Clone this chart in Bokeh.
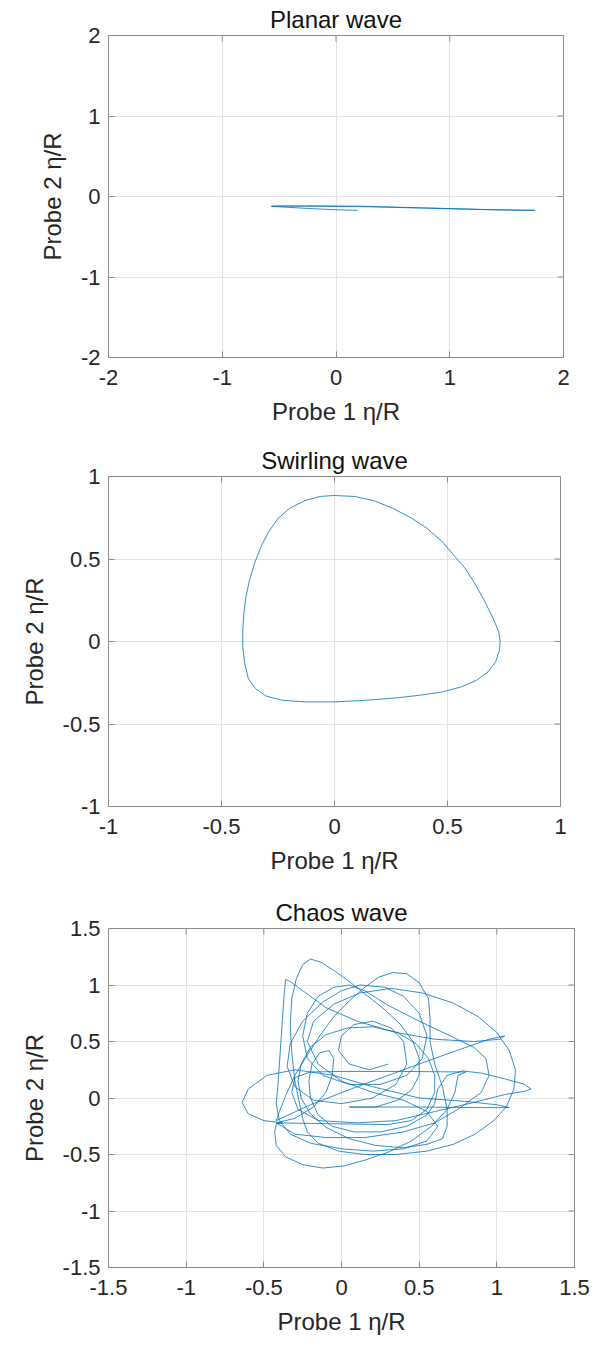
from bokeh.plotting import figure
from bokeh.layouts import column
from bokeh.models import Range1d, FixedTicker, CustomJSTickFormatter
from bokeh.embed import file_html
from bokeh.resources import INLINE

# ---------------- data ----------------
titles = ["Planar wave", "Swirling wave", "Chaos wave"]
x_label = "Probe 1 \u03b7/R"
y_label = "Probe 2 \u03b7/R"

ticks_planar = [-2, -1, 0, 1, 2]
ticks_swirl = [-1, -0.5, 0, 0.5, 1]
ticks_chaos = [-1.5, -1, -0.5, 0, 0.5, 1, 1.5]

planar_x = [0.19, 0.0, -0.2, -0.45, -0.57, -0.5, -0.2, 0.2, 0.6, 1.0, 1.4, 1.75,
            1.3, 0.8, 0.3, -0.2, -0.56]
planar_y = [-0.172, -0.165, -0.152, -0.132, -0.122, -0.118, -0.117, -0.12, -0.135,
            -0.15, -0.165, -0.172, -0.163, -0.145, -0.128, -0.12, -0.12]

swirl_x = [-0.004, 0.089, 0.173, 0.257, 0.342, 0.409, 0.477, 0.527, 0.578, 0.612,
           0.662, 0.705, 0.727, 0.733, 0.730, 0.713, 0.679, 0.629, 0.561, 0.477,
           0.376, 0.274, 0.139, 0.004, -0.131, -0.232, -0.300, -0.350, -0.381, -0.397,
           -0.406, -0.406, -0.401, -0.392, -0.376, -0.354, -0.325, -0.291, -0.249,
           -0.198, -0.131, -0.063, -0.004]
swirl_y = [0.885, 0.879, 0.854, 0.808, 0.747, 0.686, 0.605, 0.524, 0.443, 0.372,
           0.251, 0.130, 0.059, 0.0, -0.053, -0.123, -0.184, -0.235, -0.275, -0.306,
           -0.326, -0.342, -0.356, -0.366, -0.366, -0.356, -0.332, -0.285, -0.225,
           -0.134, -0.032, 0.069, 0.170, 0.271, 0.372, 0.474, 0.575, 0.666, 0.747,
           0.808, 0.854, 0.879, 0.885]

chaos_x = [
    -0.42, -0.2, 0.05, 0.3, 0.45, 0.55, 0.6, 0.6, 0.56, 0.48, 0.36, 0.2, 0.04, -0.1,
    -0.2, -0.26, -0.28, -0.26, -0.2, -0.1, 0.05, 0.22, 0.4, 0.55, 0.65,
    0.68, 0.68, 0.65, 0.6, 0.57, 0.57, 0.56, 0.5, 0.42, 0.33, 0.24, 0.15, 0.05, -0.05,
    -0.14, -0.22, -0.3, -0.36, -0.4, -0.42,
    -0.2, 0.1, 0.4, 0.7, 0.95, 1.05, 1.02, 0.85, 0.6, 0.35, 0.1, -0.1, -0.25, -0.33,
    -0.36,
    -0.37, -0.38, -0.39, -0.4, -0.41, -0.42, -0.4, -0.33, -0.2, 0.0, 0.2, 0.4, 0.55,
    0.62,
    0.55, 0.4, 0.2, 0.0, -0.15, -0.22, -0.18, -0.05, 0.12, 0.32, 0.52, 0.72, 0.88, 1.0,
    1.08, 1.12, 1.11, 1.06, 0.98, 0.86, 0.72, 0.55, 0.35, 0.15, -0.02, -0.15, -0.22,
    -0.25,
    -0.27, -0.3, -0.32, -0.33, -0.32, -0.29, -0.25, -0.2, -0.13, -0.04, 0.06, 0.17,
    0.28, 0.38, 0.46, 0.5, 0.5, 0.45, 0.36, 0.22, 0.05,
    0.5, 0.9, 1.08, 1.0, 0.8, 0.5, 0.2, -0.05, -0.3, -0.48, -0.6, -0.64, -0.6, -0.5,
    -0.38, -0.42,
    -0.43, -0.42, -0.36, -0.25, -0.12, 0.02, 0.15, 0.3, 0.45, 0.58, 0.68, 0.73, 0.75,
    0.8, 0.4, 0.0, -0.2, -0.3, -0.32, -0.28,
    -0.15, 0.1, 0.35, 0.6, 0.85, 1.05, 1.18, 1.22, 1.18, 1.05, 0.9, 0.78, 0.68, 0.62,
    0.6,
    0.55, 0.42, 0.25, 0.08, -0.06, -0.15, -0.2, -0.21, -0.19, -0.14, -0.08, -0.05,
    -0.06, -0.1, -0.18, -0.3, -0.42,
    -0.3, -0.1, 0.15, 0.4, 0.6, 0.75, 0.9, 0.95, 0.93, 0.85,
    0.7, 0.5, 0.3, 0.15, 0.05, -0.05, -0.15, -0.22, -0.25, -0.22, -0.12, 0.05, 0.25,
    0.42, 0.52, 0.55, 0.5, 0.4, 0.28, 0.12,
    0.0, -0.12, -0.25, -0.33, -0.35, -0.3, -0.18, 0.0, 0.2, 0.35, 0.42, 0.4, 0.32,
    0.2, 0.08, 0.0, -0.02, 0.05, 0.18, 0.3]
chaos_y = [
    -0.22, -0.225, -0.23, -0.235, -0.2, -0.1, 0.05, 0.2, 0.35, 0.48, 0.58, 0.63, 0.62,
    0.56, 0.45, 0.3, 0.15, 0.0, -0.14, -0.26, -0.36, -0.42, -0.44, -0.41, -0.36,
    -0.25, -0.1, 0.1, 0.3, 0.5, 0.7, 0.88, 1.02, 1.1, 1.11, 1.07, 0.98, 0.86, 0.72,
    0.55, 0.38, 0.2, 0.02, -0.12, -0.2,
    -0.06, 0.1, 0.25, 0.4, 0.52, 0.55, 0.52, 0.5, 0.52, 0.58, 0.68, 0.8, 0.95, 1.03,
    1.05,
    0.9, 0.7, 0.5, 0.3, 0.1, -0.05, -0.2, -0.32, -0.4, -0.45, -0.47, -0.45, -0.38,
    -0.25,
    -0.12, -0.02, 0.05, 0.15, 0.3, 0.5, 0.68, 0.83, 0.93, 0.97, 0.93, 0.84, 0.72, 0.58,
    0.42, 0.25, 0.08, -0.08, -0.2, -0.32, -0.41, -0.47, -0.5, -0.5, -0.47, -0.4, -0.3,
    -0.18,
    -0.05, 0.15, 0.4, 0.65, 0.88, 1.06, 1.18, 1.23, 1.2, 1.12, 1.02, 0.9, 0.78, 0.65,
    0.5, 0.35, 0.2, 0.07, -0.02, -0.08, -0.08,
    -0.08, -0.085, -0.085, -0.06, -0.03, 0.0, 0.1, 0.2, 0.25, 0.2, 0.08, -0.04, -0.14,
    -0.2, -0.22, -0.23,
    -0.3, -0.42, -0.52, -0.59, -0.62, -0.6, -0.55, -0.48, -0.38, -0.25, -0.1, 0.05,
    0.2, 0.23, 0.235, 0.235, 0.23, 0.18, 0.05, -0.1,
    -0.2, -0.22, -0.2, -0.12, -0.04, 0.03, 0.06, 0.08, 0.12, 0.17, 0.22, 0.24, 0.2,
    0.08, -0.05,
    -0.15, -0.25, -0.3, -0.3, -0.25, -0.15, 0.0, 0.15, 0.3, 0.4, 0.42, 0.35, 0.2, 0.05,
    -0.08, -0.18, -0.22,
    -0.32, -0.35, -0.35, -0.3, -0.22, -0.1, 0.05, 0.2, 0.35, 0.45,
    0.55, 0.68, 0.82, 0.95, 1.0, 0.98, 0.9, 0.75, 0.55, 0.35, 0.2, 0.12, 0.12,
    0.2, 0.35, 0.55, 0.75, 0.9, 0.98, 1.0,
    0.95, 0.85, 0.68, 0.48, 0.28, 0.1, -0.02, -0.05, 0.0, 0.12, 0.3, 0.5, 0.62,
    0.68, 0.65, 0.55, 0.42, 0.3, 0.25, 0.3]

# ---------------- styling / layout ----------------
LINE = "#0072BD"
AX = "#8a8a8a"
TXT = "#262626"
GRID = "#e2e2e2"
FONT = "Liberation Sans"
TICK_LEN = 6  # px

fmt_js = "return tick.toString();"


def make_fig(title, xs, ys, ticks, lim, fw, fh, left, right, top, bottom):
    p = figure(width=left + fw + right, height=top + fh + bottom,
               frame_width=fw, frame_height=fh,
               x_range=Range1d(-lim, lim), y_range=Range1d(-lim, lim),
               min_border_left=left, min_border_right=right,
               min_border_top=top, min_border_bottom=bottom,
               output_backend="svg", toolbar_location=None, title=title)
    p.title.text_font = FONT
    p.title.text_font_size = "24px"
    p.title.text_font_style = "normal"
    p.title.text_color = "#111111"
    p.title.align = "center"
    p.title.standoff = 6
    p.outline_line_color = AX
    p.outline_line_width = 1
    p.xgrid.ticker = FixedTicker(ticks=ticks)
    p.ygrid.ticker = FixedTicker(ticks=ticks)
    p.grid.grid_line_color = GRID
    p.grid.grid_line_width = 1
    p.line(xs, ys, line_color=LINE, line_width=0.8)
    for ax in (p.xaxis[0], p.yaxis[0]):
        ax.ticker = FixedTicker(ticks=ticks)
        ax.formatter = CustomJSTickFormatter(code=fmt_js)
        ax.major_label_text_font = FONT
        ax.major_label_text_font_size = "22px"
        ax.major_label_text_color = TXT
        ax.axis_label_text_font = FONT
        ax.axis_label_text_font_size = "24px"
        ax.axis_label_text_font_style = "normal"
        ax.axis_label_text_color = TXT
        ax.axis_line_color = AX
        ax.major_tick_line_color = AX
        ax.major_tick_in = TICK_LEN
        ax.major_tick_out = 0
        ax.minor_tick_line_color = None
    p.xaxis[0].axis_label = x_label
    p.yaxis[0].axis_label = y_label
    p.xaxis[0].major_label_standoff = 12
    p.xaxis[0].axis_label_standoff = 10
    p.yaxis[0].major_label_standoff = 8
    p.yaxis[0].axis_label_standoff = 12
    # inward ticks on the top and right edges of the box
    n = len(ticks)
    dy = TICK_LEN / fh * 2 * lim
    dx = TICK_LEN / fw * 2 * lim
    p.segment(x0=ticks, y0=[lim] * n, x1=ticks, y1=[lim - dy] * n,
              line_color=AX, line_width=1)
    p.segment(x0=[lim] * n, y0=ticks, x1=[lim - dx] * n, y1=ticks,
              line_color=AX, line_width=1)
    p.background_fill_color = "white"
    p.border_fill_color = "white"
    return p


p1 = make_fig(titles[0], planar_x, planar_y, ticks_planar, 2, 455, 322, 99, 43, 35, 83)
p2 = make_fig(titles[1], swirl_x, swirl_y, ticks_swirl, 1, 452, 330, 108, 37, 36, 74)
p3 = make_fig(titles[2], chaos_x, chaos_y, ticks_chaos, 1.5, 466, 339, 102, 29, 48, 79)

layout = column(p1, p2, p3, spacing=0)
open("out.html", "w").write(file_html(layout, INLINE))
